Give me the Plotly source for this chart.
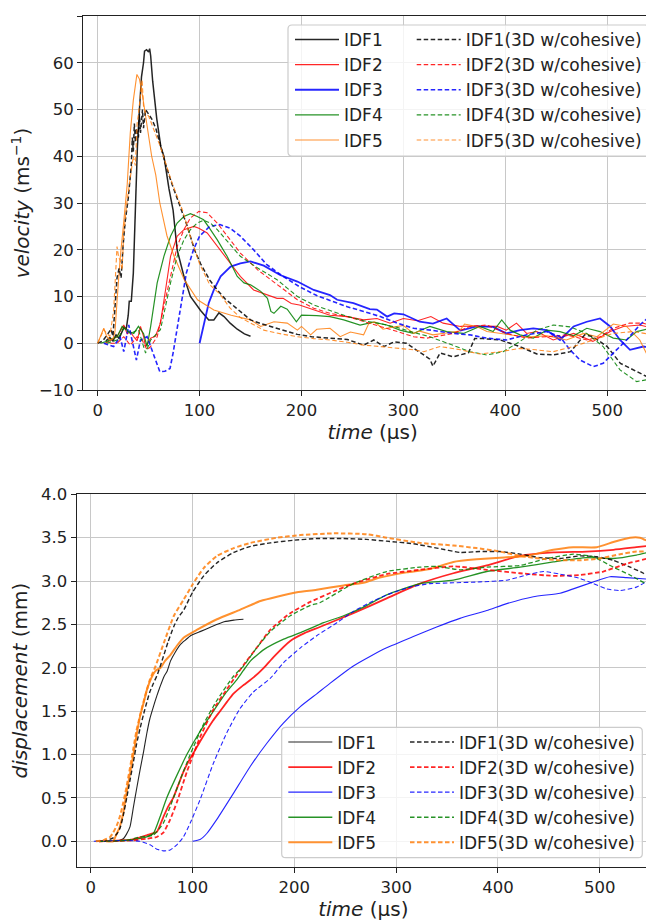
import plotly.graph_objects as go

# ---------------- velocity (top panel) ----------------
v1_t = [8, 12, 15, 18, 21, 24, 26, 28, 30, 31, 33, 35, 37, 39, 41, 43, 45, 46, 48, 50, 51, 52, 54, 56, 58, 62, 65, 70, 74, 78, 85, 91, 101, 109, 114, 119, 124, 130, 137, 144, 150]
v1 = [0.5, 1.2, 0.5, 1.8, 1.0, 2.5, 3.5, 3.0, 6.0, 9.0, 9.0, 15, 30, 42, 50, 57, 60, 62.5, 62.8, 62.3, 63, 61.5, 56, 52, 48, 42, 40, 33, 28.5, 20, 14, 10, 7, 5, 5, 6.5, 5.7, 4.3, 3, 2, 1.5]

v1c_t = [0, 5, 10, 13, 15, 17, 19, 21, 23, 25, 27, 30, 33, 34, 35, 36, 37, 38, 40, 41, 42, 44, 45, 47, 50, 53, 57, 62, 67, 73, 80, 88, 95, 101, 110, 117, 125, 134, 142, 150, 160, 170, 183, 196, 210, 228, 245, 261, 271, 281, 291, 303, 316, 326, 329, 336, 349, 359, 364, 370, 378, 395, 414, 431, 447, 464, 478, 486, 500, 513, 529, 545]
v1c = [0, 0.5, 2, 3, 1.5, 8, 14, 16, 14, 21, 26, 31, 38, 44, 41, 47, 43, 46, 44, 49, 45, 50, 46, 50, 49, 48, 46, 42, 38, 34, 30, 25, 20, 17, 13.5, 11.5, 9.5, 7.9, 6.3, 5, 4.2, 3.6, 2.8, 1.9, 1.4, 1.1, 0.8, -0.4, 0.7, -0.7, 0.3, 0, -2, -3.4, -4.9, -2.1, -2.9, -2.4, -2, 1, 1, 0.7, -0.7, -2.3, -2.5, -1.8, 1.8, 1.4, -0.7, -4.3, -6.1, -7.8]

v2_t = [7.5, 12, 19, 22, 25.6, 29, 32, 35, 38.7, 42, 45, 47, 52, 56.7, 61.6, 66.6, 71.5, 78, 84.6, 94.4, 99.3, 107.5, 117.4, 127, 140, 153, 166, 176, 182, 190, 198, 212, 228, 245, 261, 274, 287, 300, 314, 327, 339, 356, 372, 392, 401, 411, 421, 431, 447, 467, 486, 503, 516, 532, 545]
v2 = [0, 0.5, 1.4, 2.5, 3.9, 2.0, 2.5, 1.5, 0.5, 3.6, 1.5, -0.7, 1.1, 1.5, 4.3, 11.4, 18.6, 22.9, 24.3, 25, 24.6, 23.6, 20.7, 17.9, 14.3, 11.4, 10.3, 9.6, 9.6, 8.5, 8.2, 7.1, 6.0, 5.7, 5.0, 5.3, 4.3, 5.3, 4.8, 5.7, 4.3, 3.6, 3.7, 3.6, 2.8, 4.3, 2.1, 2.5, 0.7, 2.1, 0.4, 2.5, 3.6, 3.9, 3.2]

v2c_t = [12.5, 19, 25.6, 32, 38.7, 43.6, 48.5, 52, 58.4, 65, 71.5, 78, 84.6, 91, 99.3, 107.5, 117.4, 127, 140, 157, 176, 196, 212, 228, 245, 261, 277, 294, 310, 323, 349, 365, 382, 401, 421, 441, 460, 480, 493, 506, 522, 535, 545]
v2c = [0, 0, 1.4, -0.4, 1.4, 0.7, -1.4, -0.7, 1.4, 7.9, 15, 20.7, 24.3, 26.8, 28.2, 27.9, 25.7, 22.9, 19.3, 15.7, 12.5, 9.3, 7.5, 6.4, 5.7, 4.6, 3.6, 2.5, 1.4, 1.1, 2.1, 3.6, 3.9, 2.1, 1.1, 1.4, 1.8, 0.7, 1.4, 3.2, 4.3, 4.3, 3.7]

v3_t = [100, 104, 109, 114, 120.7, 130.5, 140, 150, 163, 179, 196, 212, 228, 235, 251, 267, 274, 284, 291, 300, 316, 329, 342.5, 356, 372, 388, 401, 414.5, 427.5, 440.6, 453.7, 467, 480, 493, 503, 512.6, 522.4, 535.5, 545]
v3 = [0, 3.6, 8.6, 11.4, 14.3, 16.4, 17.1, 17.5, 16.6, 14.6, 13.2, 11.4, 10.3, 9.3, 8.6, 7.3, 7.2, 5.7, 6.4, 6.2, 4.6, 4.2, 5.3, 2.7, 3.6, 3.5, 2.1, 2.8, 3.2, 2.8, 0.7, 3.6, 4.6, 5.3, 3.6, 0.7, -1.4, -0.7, -1.0]

v3c_t = [6, 15.7, 22, 25.6, 30.5, 35.4, 38, 42, 48.5, 52, 56.7, 61, 66, 71, 74, 80.6, 87, 94, 100, 110, 120, 130, 140, 153, 166, 182, 198, 215, 228, 245, 261, 277.5, 294, 310, 327, 349, 365, 382, 401, 421, 440.6, 453.7, 463.5, 473.4, 486.5, 496, 506, 519, 532, 545]
v3c = [0, -0.7, 1.4, -1.8, 3.9, -0.7, -3.6, 0.7, 1.4, -0.7, -3.6, -6.1, -6.0, -5.4, -2.1, 7.1, 15, 20, 22.9, 25, 25.4, 24.6, 22.9, 20, 16.8, 14.3, 12.1, 10.2, 9.1, 7.8, 6.8, 5.7, 4.3, 3.2, 2.8, 2.1, 1.8, 1.1, 0.7, 1.8, 2.5, 1.4, -1.4, -3.6, -5, -4.3, -2.1, 0.7, 3.9, 6.4]

v4_t = [2.6, 9, 19, 24, 30.5, 35.4, 40, 45, 48.5, 52, 58.4, 65, 71.5, 78, 84.6, 91, 97.7, 104, 110.7, 117.4, 127, 137, 143.6, 150, 160, 166.6, 170, 173, 179.7, 186, 195, 200, 215, 228, 241.5, 257.5, 270.6, 283.6, 296.7, 309.8, 326, 342.5, 359, 375, 388, 396.5, 404.7, 414.5, 427.5, 440.6, 453.7, 467, 480, 493, 506, 519, 529, 539, 545]
v4 = [0, 0.4, 1.4, 3.6, 2.5, 2.1, 3.6, 2.1, -0.7, 3.6, 12.9, 18.6, 22.9, 25.7, 27.1, 27.7, 27.1, 26.4, 24.3, 22.1, 18.6, 14.3, 12.9, 12.5, 11.1, 9.6, 6.8, 6.4, 7.9, 7.3, 4.6, 6.0, 5.9, 5.7, 5.0, 3.9, 4.5, 3.9, 2.8, 2.1, 3.6, 2.5, 2.1, 3.6, 2.5, 5.0, 2.8, 1.8, 1.1, 2.8, 2.5, 1.6, 3.2, 2.5, 1.1, 0.7, 2.5, 3.0, 2.8]

v4c_t = [9, 19, 25.6, 32, 40, 47, 52, 56.7, 61.6, 66.6, 71.5, 78, 84.6, 91, 97.7, 104, 110.7, 117.4, 127, 140, 157, 176, 196, 212, 228, 244.4, 261, 277.5, 294, 310, 326, 349, 365.4, 381.8, 398, 414.5, 431, 447, 463.5, 480, 496, 512.6, 529, 538.8, 545]
v4c = [0, 0.7, 3.2, 2.1, 2.9, -2.1, 0.7, 1.8, 2.9, 7.9, 12.9, 18.6, 22.1, 24.3, 25.7, 26.3, 25.7, 24.3, 21.8, 18.6, 16.1, 13.6, 10, 8.2, 7.0, 5.8, 4.8, 4.2, 3.4, 2.3, 1.4, -0.4, -1.8, -2.5, -1.8, 0.4, 2.8, 3.9, 3.5, 2.1, -0.7, -5.7, -8.2, -7.8, -6.4]

v5_t = [0, 4, 6, 9, 12, 15, 17, 19, 22, 25.6, 29, 32, 35, 38.5, 41, 44, 46, 50, 53, 57, 61, 68, 75, 85, 98, 114, 131, 150, 160, 173, 186, 196, 200, 209, 215, 228, 238, 248, 261, 266, 272, 280, 288, 300, 310, 316, 329, 342, 355, 360, 372, 382, 395, 408, 421, 441, 460, 477, 490, 506, 519, 532, 540, 545]
v5 = [0, 2, 3.2, 1.4, 0.7, 1, 2.5, 9, 18, 26, 34, 45, 52, 57.5, 56.5, 53, 50, 44, 40, 36, 30, 23, 18.6, 13.6, 9.3, 7.1, 6, 5, 3.6, 4.6, 4.3, 2.8, 3.6, 1.8, 3.0, 3.2, 1.4, 2.4, 1.8, 4.2, 4.6, 3.0, 3.4, 3.8, 2.1, 2.6, 1.8, 2.2, 2.6, 4.1, 3.6, 2.5, 2.1, 1.8, 1.3, 1.6, 0.7, 2.1, 1.4, 4.1, 3.6, 0.7, -2.9, -5]

v5c_t = [0, 6, 9, 12, 15.7, 19, 20.7, 22, 24, 25.6, 29, 32, 35, 37, 38.7, 40, 42, 43.6, 45, 47, 50, 55, 61.6, 66.6, 73, 83, 90, 100, 110, 120, 130, 140, 150, 163, 180, 196, 212, 228, 245, 261, 277, 294, 310, 320, 336, 356, 375, 395, 414.5, 430, 447, 467, 486.5, 506, 525.6, 545]
v5c = [0, 2.9, 2.1, 1.5, 7.1, 20.7, 18.2, 17.9, 15.7, 23.6, 30.7, 35, 40, 38, 47, 49, 52.6, 56.4, 50.7, 49.3, 48.6, 45.7, 42, 38.6, 34.3, 28.6, 23.5, 17, 12.5, 10.5, 7.5, 5.5, 4.3, 2.8, 2.0, 1.4, 1.0, 0.7, 0.2, -0.4, -0.7, -1.1, -1.4, -1.8, -0.7, -1.4, -2.3, -1.8, -1.1, -1.4, -1.8, -0.7, 0.7, 2.1, 2.5, 1.8]

# ---------------- displacement (bottom panel) ----------------
d1_t = [8, 20, 28, 32, 35, 38.6, 42, 45, 48.4, 52, 55, 58, 61.5, 65, 68, 72, 75, 78.4, 83, 88.2, 93, 98, 108, 118, 131, 140.5, 150]
d1 = [0, 0, 0.01, 0.03, 0.08, 0.17, 0.4, 0.6, 0.82, 1.04, 1.24, 1.41, 1.55, 1.68, 1.78, 1.9, 1.96, 2.08, 2.18, 2.27, 2.32, 2.37, 2.42, 2.47, 2.53, 2.55, 2.56]

d1c_t = [5, 15, 22, 26, 29, 32, 35, 38.5, 42, 45, 48.4, 52, 55, 58, 61.5, 65.4, 71.9, 76, 81.7, 86, 91.5, 100, 111, 124, 140.5, 157, 176.5, 199, 222, 248, 271, 290.7, 317, 340, 363, 382, 402, 422, 441, 461, 481, 497, 513, 530, 543, 551]
d1c = [0, 0.01, 0.04, 0.09, 0.16, 0.3, 0.48, 0.7, 0.92, 1.12, 1.3, 1.47, 1.6, 1.72, 1.82, 1.92, 2.15, 2.3, 2.48, 2.58, 2.67, 2.87, 3.06, 3.21, 3.33, 3.4, 3.44, 3.47, 3.49, 3.49, 3.48, 3.46, 3.43, 3.38, 3.33, 3.34, 3.34, 3.31, 3.27, 3.26, 3.29, 3.28, 3.24, 3.16, 3.09, 3.03]

d2_t = [8, 40, 55, 65, 71.3, 76, 81, 86, 91, 96, 101, 107.4, 114, 120, 127, 134, 140, 150, 160, 170, 180, 196, 210, 225, 258, 290.7, 323.4, 356.2, 389, 421.7, 454.4, 487, 513.4, 536, 551]
d2 = [0, 0.02, 0.07, 0.11, 0.28, 0.4, 0.5, 0.65, 0.8, 0.92, 1.02, 1.15, 1.28, 1.39, 1.5, 1.61, 1.7, 1.8, 1.89, 2.0, 2.13, 2.31, 2.4, 2.47, 2.63, 2.8, 2.97, 3.09, 3.18, 3.29, 3.33, 3.34, 3.36, 3.39, 3.41]

d2c_t = [8, 40, 55, 65, 71.3, 78, 84.6, 94.4, 107.4, 120.5, 133.6, 140.5, 150, 163, 176.5, 196, 215.7, 238.6, 258, 290.7, 323.4, 356.2, 389, 421.7, 454.4, 480.6, 503.5, 526.4, 551]
d2c = [0, 0.01, 0.03, 0.05, 0.1, 0.25, 0.45, 0.8, 1.2, 1.52, 1.75, 1.87, 2.03, 2.23, 2.44, 2.63, 2.76, 2.88, 2.97, 3.08, 3.13, 3.17, 3.13, 3.09, 3.06, 3.07, 3.11, 3.2, 3.27]

d3_t = [100, 107.4, 114, 123.7, 140, 156.5, 173, 189, 205.6, 222, 235, 258, 274.3, 290.7, 316.9, 339.8, 362.7, 389, 408.6, 434.8, 461, 474, 493.7, 510, 526.4, 551]
d3 = [0, 0.02, 0.09, 0.25, 0.55, 0.86, 1.13, 1.36, 1.55, 1.7, 1.82, 2.02, 2.13, 2.23, 2.36, 2.47, 2.57, 2.66, 2.74, 2.82, 2.86, 2.91, 2.99, 3.05, 3.04, 3.02]

d3c_t = [3, 35, 48.4, 58.3, 65, 71.3, 78, 84.6, 91, 97.7, 107.4, 120.5, 133.6, 146.6, 159.7, 176.5, 189.5, 206, 222, 241.8, 258, 274, 290.7, 313.6, 333.3, 356.2, 382.4, 408.6, 428.2, 444.6, 461, 480.6, 493.7, 506.8, 520, 536, 551]
d3c = [0, 0.01, 0.0, -0.04, -0.09, -0.11, -0.1, -0.04, 0.05, 0.21, 0.48, 0.9, 1.25, 1.53, 1.72, 1.88, 2.06, 2.23, 2.37, 2.52, 2.65, 2.75, 2.84, 2.93, 2.97, 2.98, 2.99, 3.01, 3.07, 3.11, 3.08, 3.03, 2.97, 2.91, 2.89, 2.93, 3.03]

d4_t = [8, 42, 55, 61.5, 68, 74.6, 84.6, 94.4, 107, 120.5, 132, 144, 150, 157, 170, 189.5, 209, 228.8, 248.4, 268, 290.7, 323.4, 356.2, 389, 421.7, 454.4, 487, 513.4, 536, 551]
d4 = [0, 0.02, 0.05, 0.09, 0.28, 0.5, 0.76, 1.0, 1.26, 1.5, 1.7, 1.87, 1.97, 2.08, 2.21, 2.33, 2.42, 2.52, 2.6, 2.7, 2.84, 2.97, 3.01, 3.11, 3.16, 3.22, 3.27, 3.26, 3.3, 3.34]

d4c_t = [8, 35, 48.4, 61.5, 71.3, 78, 87.9, 97.7, 110.8, 123.7, 140, 150, 163, 176.5, 196, 215.7, 225, 258, 290.7, 323.4, 339.8, 362.7, 389, 421.7, 448, 474, 493.7, 513.4, 529.7, 551]
d4c = [0, 0.01, 0.05, 0.07, 0.21, 0.4, 0.71, 1.0, 1.35, 1.62, 1.9, 2.02, 2.23, 2.42, 2.6, 2.72, 2.75, 2.97, 3.11, 3.16, 3.17, 3.13, 3.16, 3.18, 3.26, 3.31, 3.28, 3.16, 3.07, 2.93]

d5_t = [15, 22, 25.5, 28, 30.4, 32, 35, 38.6, 42, 45, 48.4, 52, 55, 58, 61.5, 64, 68.6, 73, 78.4, 85, 91.5, 104.6, 124, 147, 166.7, 183, 202.6, 222, 248.4, 268, 284, 310.3, 333.3, 356.2, 379, 402, 428.2, 454.4, 474, 497, 513.4, 529.7, 539.5, 549]
d5 = [0, 0, 0.09, 0.15, 0.25, 0.33, 0.55, 0.78, 1.01, 1.22, 1.44, 1.6, 1.74, 1.84, 1.93, 1.97, 2.0, 2.08, 2.15, 2.26, 2.35, 2.44, 2.56, 2.67, 2.77, 2.82, 2.87, 2.9, 2.95, 2.98, 3.04, 3.1, 3.14, 3.22, 3.25, 3.27, 3.29, 3.36, 3.39, 3.39, 3.45, 3.5, 3.5, 3.45]

d5c_t = [5, 12, 19, 22, 25.5, 29, 32, 35, 38.6, 42, 45, 48.4, 51.7, 55, 58.3, 63.7, 71.9, 81.7, 91.5, 100, 111, 124, 140.5, 157, 183, 206, 238.6, 271, 290.7, 323.4, 356.2, 379, 402, 421.7, 441.3, 461, 480.6, 500, 520, 536, 551]
d5c = [0, 0.01, 0.05, 0.1, 0.18, 0.3, 0.45, 0.62, 0.85, 1.08, 1.28, 1.45, 1.6, 1.74, 1.87, 2.02, 2.29, 2.6, 2.79, 2.96, 3.15, 3.29, 3.38, 3.44, 3.5, 3.53, 3.55, 3.54, 3.5, 3.44, 3.41, 3.38, 3.34, 3.29, 3.26, 3.24, 3.24, 3.26, 3.31, 3.34, 3.34]

names = ["IDF1", "IDF2", "IDF3", "IDF4", "IDF5"]
colors = ["#000000", "#ff0000", "#0000ff", "#008000", "#ff7f0e"]

W, H = 654, 920
OFF = 8  # the page body adds an 8px margin; place things in screen pixels
FONT = "DejaVu Sans"


def px(x):
    return (x - OFF) / W


def py(y):
    return 1 - (y - OFF) / H


fig = go.Figure()

top_solid = [(v1_t, v1), (v2_t, v2), (v3_t, v3), (v4_t, v4), (v5_t, v5)]
top_dash = [(v1c_t, v1c), (v2c_t, v2c), (v3c_t, v3c), (v4c_t, v4c), (v5c_t, v5c)]
bot_solid = [(d1_t, d1), (d2_t, d2), (d3_t, d3), (d4_t, d4), (d5_t, d5)]
bot_dash = [(d1c_t, d1c), (d2c_t, d2c), (d3c_t, d3c), (d4c_t, d4c), (d5c_t, d5c)]

top_w_solid = [1.5, 1.1, 1.8, 1.2, 1.1]
top_w_dash = [1.5, 1.1, 1.6, 1.1, 1.1]
bot_w_solid = [1.1, 1.8, 1.1, 1.3, 2.0]
bot_w_dash = [1.4, 1.8, 1.1, 1.3, 2.0]

for i, n in enumerate(names):
    t, v = top_solid[i]
    fig.add_trace(go.Scatter(x=t, y=v, mode="lines", name=n, legend="legend",
                             line=dict(color=colors[i], width=top_w_solid[i]),
                             opacity=0.85, xaxis="x", yaxis="y"))
for i, n in enumerate(names):
    t, v = top_dash[i]
    fig.add_trace(go.Scatter(x=t, y=v, mode="lines", name=n + "(3D w/cohesive)", legend="legend2",
                             line=dict(color=colors[i], width=top_w_dash[i], dash="4.5px,2.5px"),
                             opacity=0.85, xaxis="x", yaxis="y"))
for i, n in enumerate(names):
    t, v = bot_solid[i]
    fig.add_trace(go.Scatter(x=t, y=v, mode="lines", name=n, legend="legend3",
                             line=dict(color=colors[i], width=bot_w_solid[i], shape="spline", smoothing=0.5),
                             opacity=0.85, xaxis="x2", yaxis="y2"))
for i, n in enumerate(names):
    t, v = bot_dash[i]
    fig.add_trace(go.Scatter(x=t, y=v, mode="lines", name=n + "(3D w/cohesive)", legend="legend4",
                             line=dict(color=colors[i], width=bot_w_dash[i], dash="4.5px,2.5px",
                                       shape="spline", smoothing=0.5),
                             opacity=0.85, xaxis="x2", yaxis="y2"))


def frame(x0, y0, x1, y1, r=4):
    # rounded legend frame, given in screen pixels
    return ("M{a},{b} L{c},{b} Q{x1},{b} {x1},{d} L{x1},{e} Q{x1},{f} {c},{f} "
            "L{a},{f} Q{x0},{f} {x0},{e} L{x0},{d} Q{x0},{b} {a},{b} Z").format(
        a=px(x0 + r), b=py(y0), c=px(x1 - r), d=py(y0 + r), e=py(y1 - r), f=py(y1),
        x0=px(x0), x1=px(x1))


shapes = [
    dict(type="path", xref="paper", yref="paper", path=frame(288, 25, 649, 156), layer="above",
         line=dict(color="#cccccc", width=1.2), fillcolor="rgba(255,255,255,0.8)"),
    dict(type="path", xref="paper", yref="paper", path=frame(281.7, 727.3, 642.3, 857.7), layer="above",
         line=dict(color="#cccccc", width=1.2), fillcolor="rgba(255,255,255,0.8)"),
]


def leg(x, y):
    return dict(x=px(x), y=py(y), xanchor="left", yanchor="top", bgcolor="rgba(0,0,0,0)",
                borderwidth=0, itemwidth=44, font=dict(family=FONT, size=17, color="#222"))


axis_common = dict(showline=True, linecolor="#222", linewidth=1.3, ticks="outside", ticklen=5,
                   tickwidth=1.2, tickcolor="#222", showgrid=True, gridcolor="#c8c8c8", gridwidth=1.2,
                   zeroline=False, automargin=False, tickfont=dict(family=FONT, size=16.5, color="#222"))

fig.update_layout(
    width=W, height=H, margin=dict(l=0, r=0, t=0, b=0, autoexpand=False),
    paper_bgcolor="white", plot_bgcolor="white",
    font=dict(family=FONT, size=16.5, color="#222"),
    xaxis=dict(axis_common, domain=[px(83.3), 1], range=[-14.1, 553.8], dtick=100, anchor="y", mirror=True,
               title=dict(text="<i>time</i> (μs)", standoff=6)),
    yaxis=dict(axis_common, domain=[py(390), py(16)], range=[-10, 70], dtick=10, anchor="x",
               title=dict(text="<i>velocity</i> (ms<sup>−1</sup>)", standoff=8)),
    xaxis2=dict(axis_common, domain=[px(76.7), px(650)], range=[-13.8, 549.4], dtick=100, anchor="y2",
                mirror=True, title=dict(text="<i>time</i> (μs)", standoff=6)),
    yaxis2=dict(axis_common, domain=[py(867), py(494.3)], range=[-0.296, 4.0], dtick=0.5, tickformat=".1f",
                anchor="x2", mirror=True, title=dict(text="<i>displacement</i> (mm)", standoff=8)),
    legend=leg(290, 22),
    legend2=leg(411.7, 22),
    legend3=leg(283.3, 724.4),
    legend4=leg(405, 724.4),
    shapes=shapes,
)

fig.write_html("out.html")
